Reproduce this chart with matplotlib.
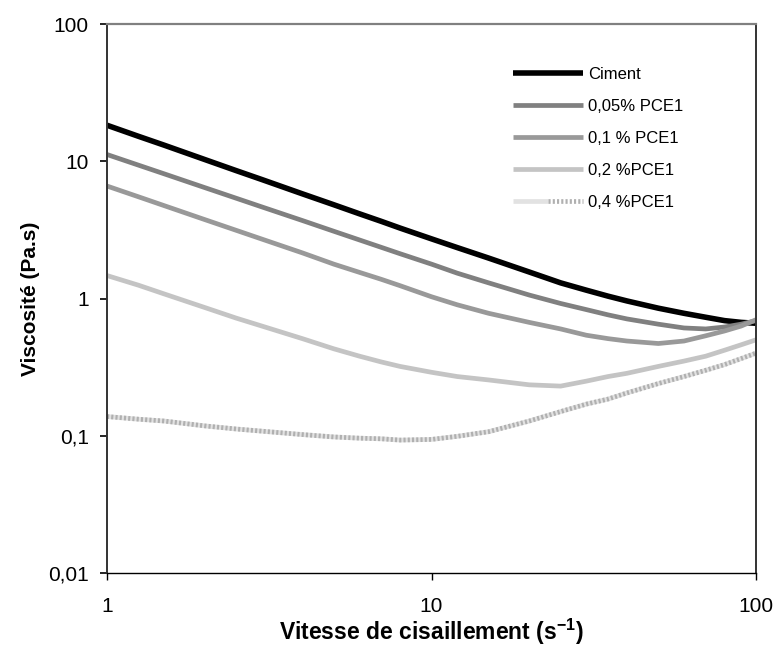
import matplotlib
matplotlib.use("Agg")
import matplotlib.pyplot as plt
from matplotlib.ticker import FixedLocator, FixedFormatter, NullLocator
from matplotlib.legend_handler import HandlerTuple

plt.rcParams["font.family"] = ["Liberation Sans", "DejaVu Sans"]

# ── Data ─────────────────────────────────────────────────────────────────────
shear = [1, 1.25, 1.5, 2, 2.5, 3, 4, 5, 6, 7, 8, 10, 12, 15, 20, 25, 30, 35,
         40, 50, 60, 70, 80, 90, 100]

ciment = [18.3, 15.2, 13.1, 10.3, 8.55, 7.36, 5.79, 4.82, 4.14, 3.65, 3.26,
          2.72, 2.35, 1.97, 1.56, 1.30, 1.15, 1.04, 0.96, 0.85, 0.78, 0.73,
          0.69, 0.67, 0.66]
pce_005 = [11.2, 9.37, 8.1, 6.43, 5.38, 4.65, 3.70, 3.09, 2.67, 2.36, 2.12,
           1.78, 1.53, 1.30, 1.06, 0.92, 0.83, 0.76, 0.71, 0.65, 0.61, 0.60,
           0.62, 0.65, 0.69]
pce_01 = [6.6, 5.51, 4.75, 3.76, 3.14, 2.71, 2.15, 1.78, 1.55, 1.38, 1.24,
          1.03, 0.90, 0.78, 0.67, 0.60, 0.54, 0.51, 0.49, 0.47, 0.49, 0.535,
          0.58, 0.63, 0.70]
pce_02 = [1.47, 1.25, 1.08, 0.86, 0.72, 0.63, 0.51, 0.43, 0.38, 0.345, 0.32,
          0.29, 0.27, 0.255, 0.235, 0.23, 0.25, 0.27, 0.285, 0.32, 0.35, 0.38,
          0.42, 0.46, 0.50]
pce_04 = [0.138, 0.132, 0.128, 0.118, 0.112, 0.108, 0.102, 0.098, 0.096,
          0.095, 0.093, 0.094, 0.099, 0.107, 0.128, 0.15, 0.17, 0.185, 0.205,
          0.24, 0.27, 0.30, 0.33, 0.365, 0.40]

labels = ["Ciment", "0,05% PCE1", "0,1 % PCE1", "0,2 %PCE1", "0,4 %PCE1"]

x_ticks = [1, 10, 100]
x_ticklabels = ["1", "10", "100"]
y_ticks = [0.01, 0.1, 1, 10, 100]
y_ticklabels = ["0,01", "0,1", "1", "10", "100"]

# ── Figure ───────────────────────────────────────────────────────────────────
fig = plt.figure(figsize=(7.77, 6.58), dpi=100)
ax = fig.add_axes([0.1377, 0.1292, 0.8353, 0.8343])

h1, = ax.plot(shear, ciment, color="black", lw=4.0, solid_capstyle="butt")
h2, = ax.plot(shear, pce_005, color="#808080", lw=3.4, solid_capstyle="butt")
h3, = ax.plot(shear, pce_01, color="#999999", lw=3.4, solid_capstyle="butt")
h4, = ax.plot(shear, pce_02, color="#c4c4c4", lw=3.4, solid_capstyle="butt")
h5a, = ax.plot(shear, pce_04, color="#e2e2e2", lw=3.4, solid_capstyle="butt")
h5b, = ax.plot(shear, pce_04, color="#b0b0b0", lw=3.4,
               linestyle=(0, (0.45, 0.45)), solid_capstyle="butt")

ax.set_xscale("log")
ax.set_yscale("log")
ax.set_xlim(1, 100)
ax.set_ylim(0.01, 100)

ax.xaxis.set_major_locator(FixedLocator(x_ticks))
ax.xaxis.set_major_formatter(FixedFormatter(x_ticklabels))
ax.yaxis.set_major_locator(FixedLocator(y_ticks))
ax.yaxis.set_major_formatter(FixedFormatter(y_ticklabels))
ax.xaxis.set_minor_locator(NullLocator())
ax.yaxis.set_minor_locator(NullLocator())

ax.tick_params(axis="x", direction="out", length=5, width=1, pad=12,
               labelsize=15, colors="black")
ax.tick_params(axis="y", direction="out", length=5, width=1.2, pad=8,
               labelsize=15, colors="black")

ax.spines["top"].set_color("#808080")
ax.spines["top"].set_linewidth(1.6)
ax.spines["right"].set_color("#333333")
ax.spines["right"].set_linewidth(1.4)
ax.spines["left"].set_color("#333333")
ax.spines["left"].set_linewidth(1.4)
ax.spines["bottom"].set_color("black")
ax.spines["bottom"].set_linewidth(1.0)

ax.set_xlabel(r"Vitesse de cisaillement (s$^{\mathregular{-1}}$)",
              fontsize=16.5, fontweight="bold", labelpad=1)
ax.set_ylabel("Viscosité (Pa.s)", fontsize=15, fontweight="bold", labelpad=6)

ax.legend([h1, h2, h3, h4, (h5a, h5b)], labels,
          handler_map={tuple: HandlerTuple(ndivide=None)},
          loc="upper left", bbox_to_anchor=(0.625, 0.922), frameon=False,
          fontsize=12, handlelength=4.2, handletextpad=0.3,
          labelspacing=1.02, borderpad=0, borderaxespad=0)

fig.savefig("out.png", dpi=100, facecolor="white")
